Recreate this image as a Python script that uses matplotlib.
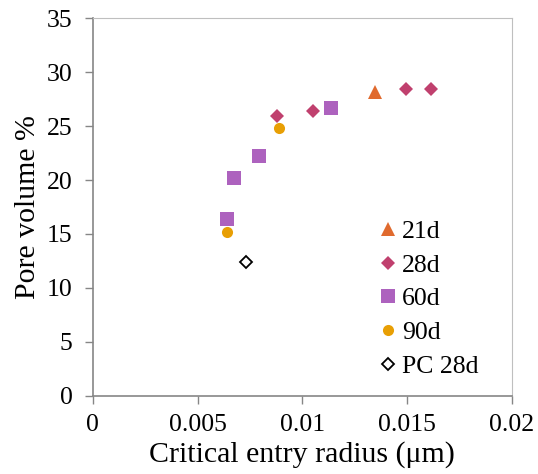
import matplotlib
matplotlib.use("Agg")
import matplotlib.pyplot as plt

plt.rcParams["font.family"] = ["Liberation Serif", "DejaVu Serif"]

# critical entry radius (um) vs pore volume (%)
r21 = [0.01347]
v21 = [28.2]
r28 = [0.00878, 0.01052, 0.01494, 0.01612]
v28 = [25.9, 26.4, 28.45, 28.45]
r60 = [0.00639, 0.00673, 0.00792, 0.01135]
v60 = [16.4, 20.2, 22.2, 26.7]
r90 = [0.00639, 0.00889]
v90 = [15.2, 24.8]
r_pc = [0.0073]
v_pc = [12.4]

x_ticks = [0, 0.005, 0.01, 0.015, 0.02]
x_labels = ["0", "0.005", "0.01", "0.015", "0.02"]
y_ticks = [0, 5, 10, 15, 20, 25, 30, 35]

fig = plt.figure(figsize=(5.38, 4.74), dpi=100)
ax = fig.add_axes([92.7 / 538, 1 - 395.7 / 474, 419.3 / 538, 377.4 / 474])

ax.plot(r21, v21, ls="none", marker="^", ms=9.5, color="#E06A2E", mew=0, label="21d")
ax.plot(r28, v28, ls="none", marker="D", ms=7.5, color="#C0406E", mew=0, label="28d")
ax.plot(r60, v60, ls="none", marker="s", ms=9.5, color="#AD62BE", mew=0, label="60d")
ax.plot(r90, v90, ls="none", marker="o", ms=8, color="#E89F04", mew=0, label="90d")
ax.plot(r_pc, v_pc, ls="none", marker="D", ms=6, mfc="white", mec="black", mew=1.3,
        label="PC 28d")

ax.set_xlim(0, 0.02)
ax.set_ylim(0, 35)
ax.set_xticks(x_ticks)
ax.set_xticklabels(x_labels)
ax.set_yticks(y_ticks)
ax.tick_params(direction="out", length=5.5, width=1, color="#868686",
               labelsize=18.5)
ax.tick_params(axis="x", pad=7.5)
ax.tick_params(axis="y", pad=9)

for side in ["left", "bottom"]:
    ax.spines[side].set_color("#868686")
    ax.spines[side].set_linewidth(1.2)
for side in ["top", "right"]:
    ax.spines[side].set_color("#BFBFBF")
    ax.spines[side].set_linewidth(0.8)

ax.set_xlabel("Critical entry radius (\u03bcm)", fontsize=21.5, labelpad=4)
ax.set_ylabel("Pore volume %", fontsize=21.5, labelpad=4)

ax.legend(loc="upper left", bbox_to_anchor=(0.679, 0.466), frameon=False,
          fontsize=18.5, handletextpad=0.15, labelspacing=0.42, borderpad=0,
          handlelength=0.8, borderaxespad=0)

fig.savefig("out.png", dpi=100)
